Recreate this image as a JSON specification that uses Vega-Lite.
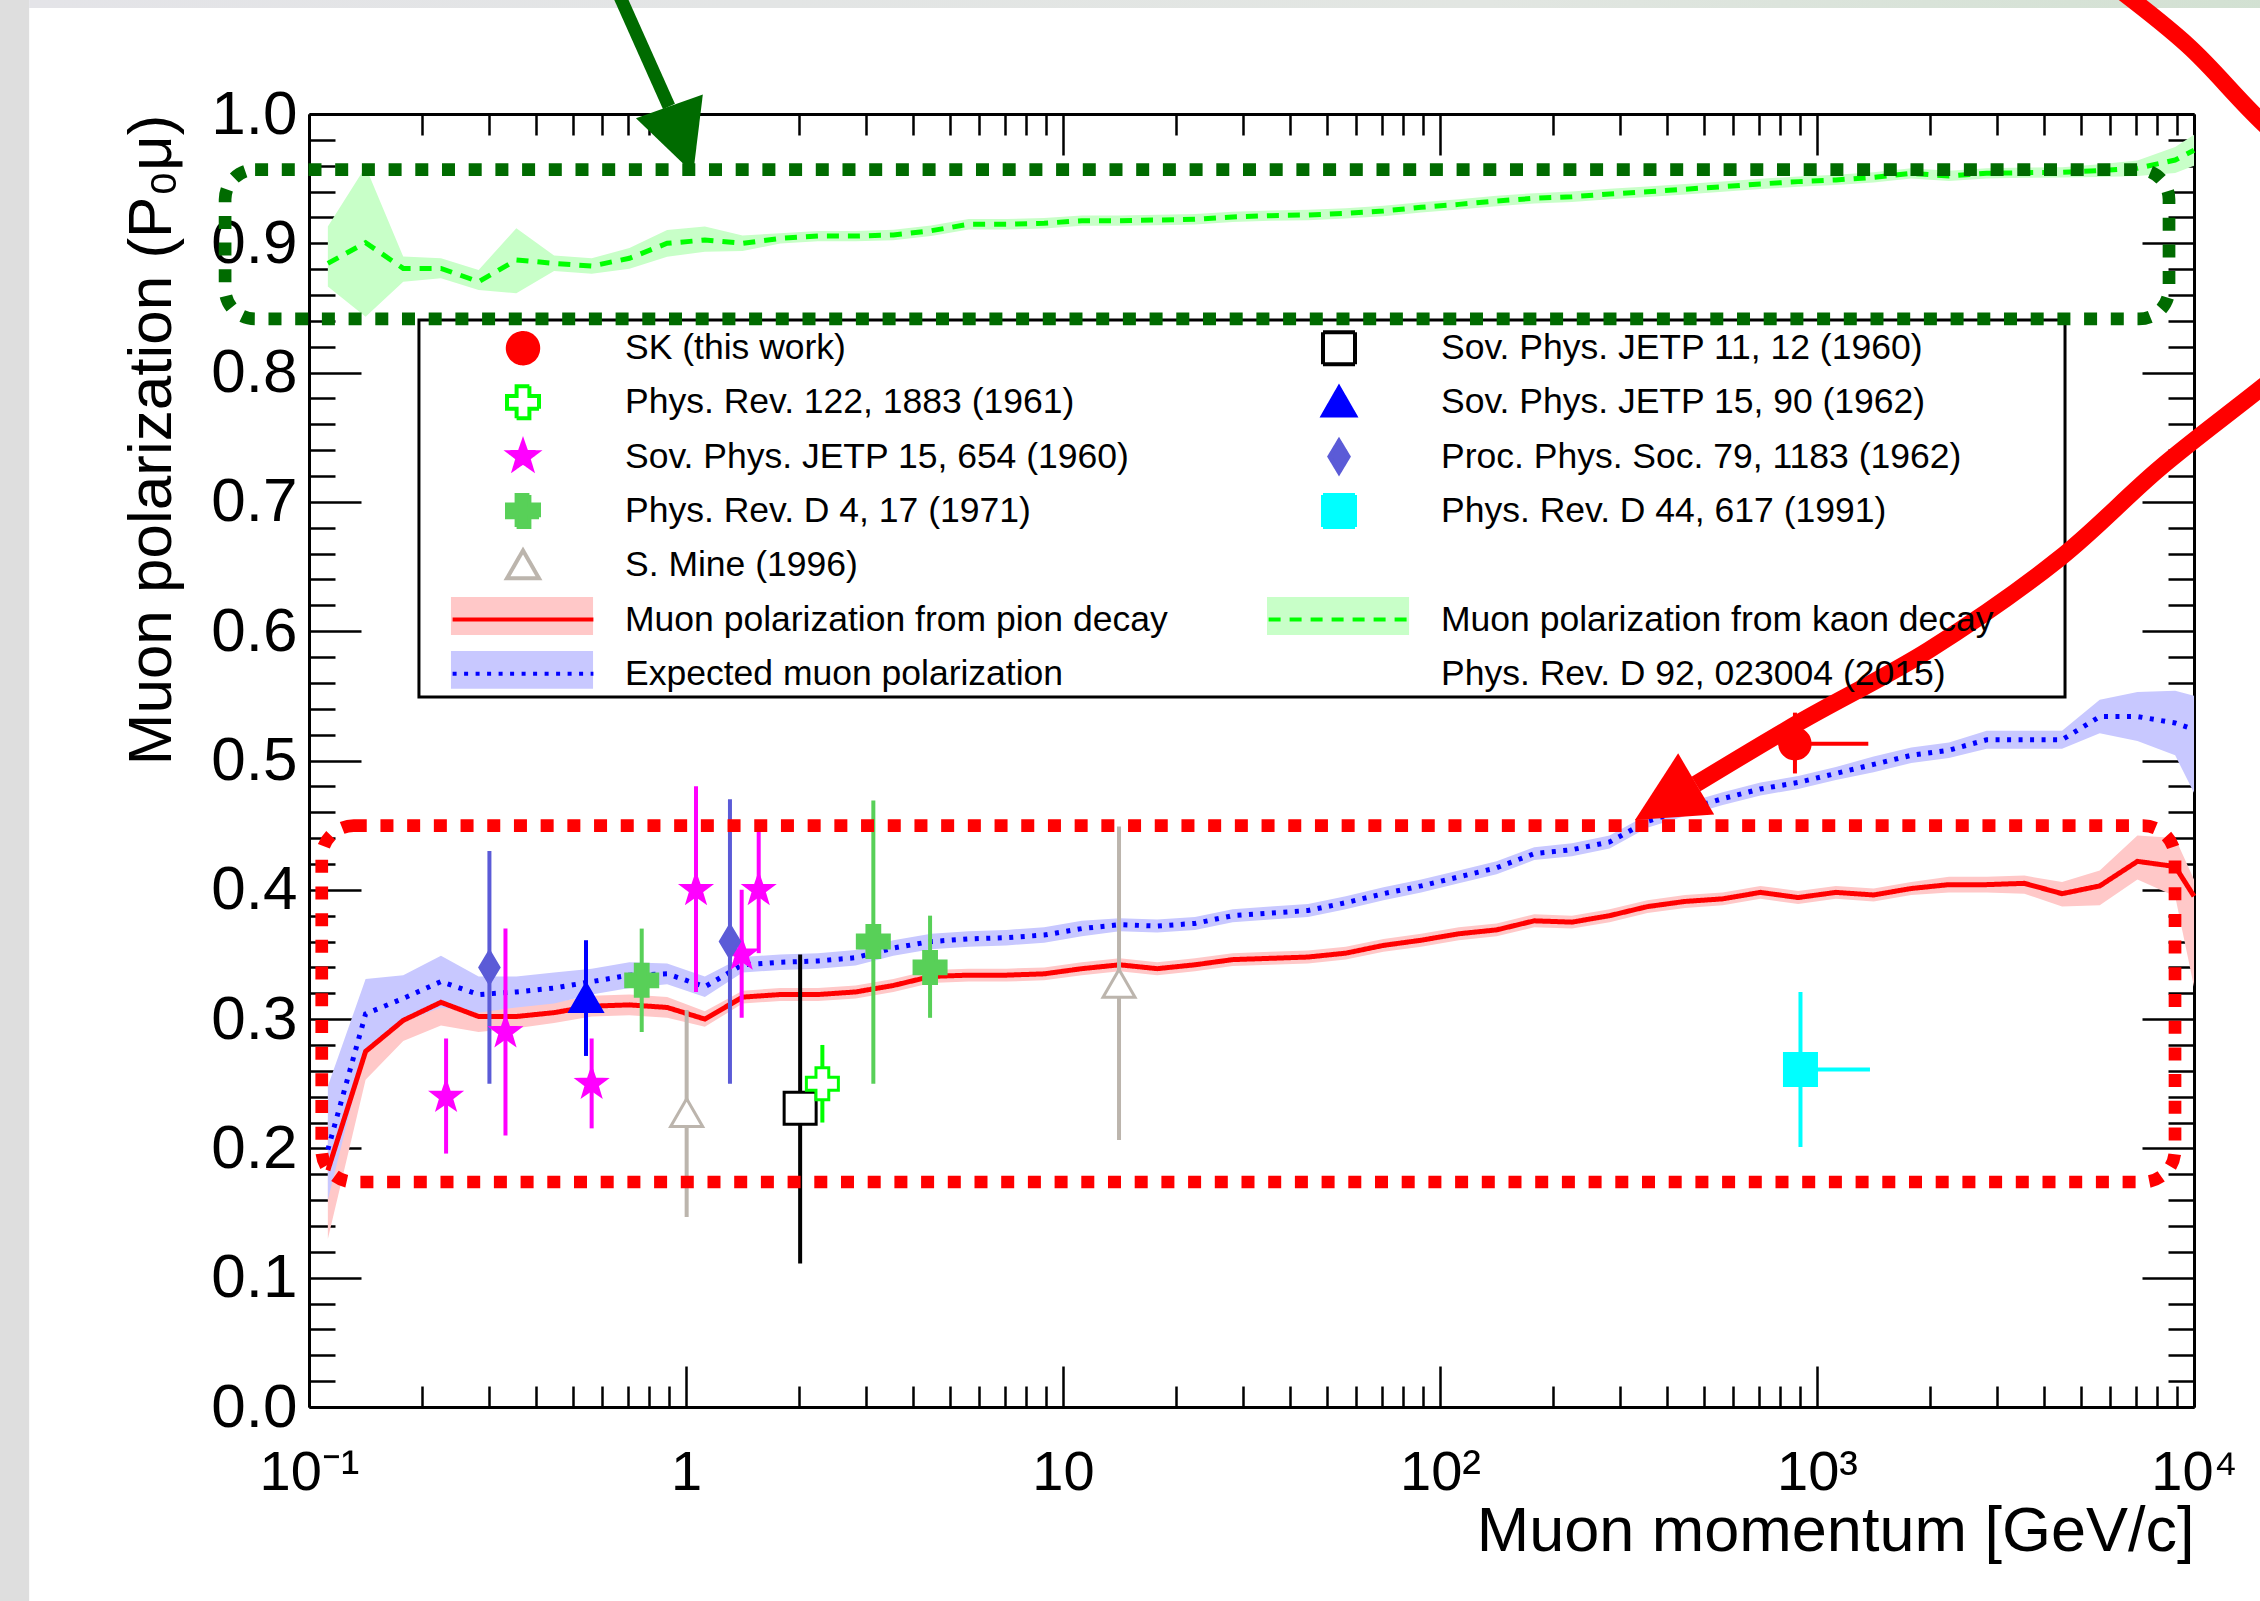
{
  "$schema": "https://vega.github.io/schema/vega-lite/v6.json",
  "autosize": {"type": "none"},
  "width": 1885,
  "height": 1293,
  "padding": {"left": 309, "top": 114, "right": 66, "bottom": 194},
  "background": "white",
  "datasets": {
    "curves": [
      {"series": "Muon polarization from pion decay", "p": 0.1122, "v": 0.183, "lo": 0.130, "hi": 0.222},
      {"series": "Muon polarization from pion decay", "p": 0.1413, "v": 0.275, "lo": 0.253, "hi": 0.297},
      {"series": "Muon polarization from pion decay", "p": 0.1778, "v": 0.299, "lo": 0.283, "hi": 0.315},
      {"series": "Muon polarization from pion decay", "p": 0.2239, "v": 0.313, "lo": 0.295, "hi": 0.331},
      {"series": "Muon polarization from pion decay", "p": 0.2818, "v": 0.302, "lo": 0.290, "hi": 0.314},
      {"series": "Muon polarization from pion decay", "p": 0.3548, "v": 0.302, "lo": 0.293, "hi": 0.311},
      {"series": "Muon polarization from pion decay", "p": 0.4467, "v": 0.305, "lo": 0.297, "hi": 0.313},
      {"series": "Muon polarization from pion decay", "p": 0.5623, "v": 0.310, "lo": 0.302, "hi": 0.318},
      {"series": "Muon polarization from pion decay", "p": 0.7079, "v": 0.311, "lo": 0.303, "hi": 0.319},
      {"series": "Muon polarization from pion decay", "p": 0.8913, "v": 0.309, "lo": 0.301, "hi": 0.317},
      {"series": "Muon polarization from pion decay", "p": 1.122, "v": 0.300, "lo": 0.294, "hi": 0.306},
      {"series": "Muon polarization from pion decay", "p": 1.413, "v": 0.317, "lo": 0.312, "hi": 0.322},
      {"series": "Muon polarization from pion decay", "p": 1.778, "v": 0.319, "lo": 0.314, "hi": 0.324},
      {"series": "Muon polarization from pion decay", "p": 2.239, "v": 0.319, "lo": 0.314, "hi": 0.324},
      {"series": "Muon polarization from pion decay", "p": 2.818, "v": 0.321, "lo": 0.316, "hi": 0.326},
      {"series": "Muon polarization from pion decay", "p": 3.548, "v": 0.326, "lo": 0.321, "hi": 0.331},
      {"series": "Muon polarization from pion decay", "p": 4.467, "v": 0.333, "lo": 0.328, "hi": 0.338},
      {"series": "Muon polarization from pion decay", "p": 5.623, "v": 0.334, "lo": 0.329, "hi": 0.339},
      {"series": "Muon polarization from pion decay", "p": 7.079, "v": 0.334, "lo": 0.329, "hi": 0.339},
      {"series": "Muon polarization from pion decay", "p": 8.913, "v": 0.335, "lo": 0.330, "hi": 0.340},
      {"series": "Muon polarization from pion decay", "p": 11.22, "v": 0.339, "lo": 0.334, "hi": 0.344},
      {"series": "Muon polarization from pion decay", "p": 14.13, "v": 0.342, "lo": 0.337, "hi": 0.347},
      {"series": "Muon polarization from pion decay", "p": 17.78, "v": 0.339, "lo": 0.334, "hi": 0.344},
      {"series": "Muon polarization from pion decay", "p": 22.39, "v": 0.342, "lo": 0.337, "hi": 0.347},
      {"series": "Muon polarization from pion decay", "p": 28.18, "v": 0.346, "lo": 0.341, "hi": 0.351},
      {"series": "Muon polarization from pion decay", "p": 35.48, "v": 0.347, "lo": 0.342, "hi": 0.352},
      {"series": "Muon polarization from pion decay", "p": 44.67, "v": 0.348, "lo": 0.343, "hi": 0.353},
      {"series": "Muon polarization from pion decay", "p": 56.23, "v": 0.351, "lo": 0.346, "hi": 0.356},
      {"series": "Muon polarization from pion decay", "p": 70.79, "v": 0.357, "lo": 0.352, "hi": 0.362},
      {"series": "Muon polarization from pion decay", "p": 89.13, "v": 0.361, "lo": 0.356, "hi": 0.366},
      {"series": "Muon polarization from pion decay", "p": 112.2, "v": 0.366, "lo": 0.361, "hi": 0.371},
      {"series": "Muon polarization from pion decay", "p": 141.3, "v": 0.369, "lo": 0.364, "hi": 0.374},
      {"series": "Muon polarization from pion decay", "p": 177.8, "v": 0.376, "lo": 0.371, "hi": 0.381},
      {"series": "Muon polarization from pion decay", "p": 223.9, "v": 0.375, "lo": 0.370, "hi": 0.380},
      {"series": "Muon polarization from pion decay", "p": 281.8, "v": 0.380, "lo": 0.375, "hi": 0.385},
      {"series": "Muon polarization from pion decay", "p": 354.8, "v": 0.387, "lo": 0.382, "hi": 0.392},
      {"series": "Muon polarization from pion decay", "p": 446.7, "v": 0.391, "lo": 0.386, "hi": 0.396},
      {"series": "Muon polarization from pion decay", "p": 562.3, "v": 0.393, "lo": 0.388, "hi": 0.398},
      {"series": "Muon polarization from pion decay", "p": 707.9, "v": 0.398, "lo": 0.393, "hi": 0.403},
      {"series": "Muon polarization from pion decay", "p": 891.3, "v": 0.394, "lo": 0.389, "hi": 0.399},
      {"series": "Muon polarization from pion decay", "p": 1122, "v": 0.398, "lo": 0.393, "hi": 0.403},
      {"series": "Muon polarization from pion decay", "p": 1413, "v": 0.396, "lo": 0.391, "hi": 0.401},
      {"series": "Muon polarization from pion decay", "p": 1778, "v": 0.401, "lo": 0.396, "hi": 0.406},
      {"series": "Muon polarization from pion decay", "p": 2239, "v": 0.404, "lo": 0.398, "hi": 0.410},
      {"series": "Muon polarization from pion decay", "p": 2818, "v": 0.404, "lo": 0.398, "hi": 0.410},
      {"series": "Muon polarization from pion decay", "p": 3548, "v": 0.405, "lo": 0.397, "hi": 0.411},
      {"series": "Muon polarization from pion decay", "p": 4467, "v": 0.397, "lo": 0.387, "hi": 0.406},
      {"series": "Muon polarization from pion decay", "p": 5623, "v": 0.403, "lo": 0.388, "hi": 0.415},
      {"series": "Muon polarization from pion decay", "p": 7079, "v": 0.422, "lo": 0.408, "hi": 0.442},
      {"series": "Muon polarization from pion decay", "p": 8913, "v": 0.418, "lo": 0.395, "hi": 0.440},
      {"series": "Muon polarization from pion decay", "p": 10000, "v": 0.395, "lo": 0.325, "hi": 0.408},
      {"series": "Expected muon polarization", "p": 0.1122, "v": 0.199, "lo": 0.160, "hi": 0.248},
      {"series": "Expected muon polarization", "p": 0.1413, "v": 0.304, "lo": 0.277, "hi": 0.331},
      {"series": "Expected muon polarization", "p": 0.1778, "v": 0.316, "lo": 0.298, "hi": 0.334},
      {"series": "Expected muon polarization", "p": 0.2239, "v": 0.329, "lo": 0.309, "hi": 0.349},
      {"series": "Expected muon polarization", "p": 0.2818, "v": 0.319, "lo": 0.305, "hi": 0.333},
      {"series": "Expected muon polarization", "p": 0.3548, "v": 0.321, "lo": 0.309, "hi": 0.333},
      {"series": "Expected muon polarization", "p": 0.4467, "v": 0.324, "lo": 0.312, "hi": 0.336},
      {"series": "Expected muon polarization", "p": 0.5623, "v": 0.329, "lo": 0.319, "hi": 0.339},
      {"series": "Expected muon polarization", "p": 0.7079, "v": 0.334, "lo": 0.324, "hi": 0.344},
      {"series": "Expected muon polarization", "p": 0.8913, "v": 0.335, "lo": 0.327, "hi": 0.343},
      {"series": "Expected muon polarization", "p": 1.122, "v": 0.325, "lo": 0.317, "hi": 0.333},
      {"series": "Expected muon polarization", "p": 1.413, "v": 0.342, "lo": 0.336, "hi": 0.348},
      {"series": "Expected muon polarization", "p": 1.778, "v": 0.344, "lo": 0.338, "hi": 0.350},
      {"series": "Expected muon polarization", "p": 2.239, "v": 0.345, "lo": 0.339, "hi": 0.351},
      {"series": "Expected muon polarization", "p": 2.818, "v": 0.3475, "lo": 0.3415, "hi": 0.3535},
      {"series": "Expected muon polarization", "p": 3.548, "v": 0.355, "lo": 0.349, "hi": 0.361},
      {"series": "Expected muon polarization", "p": 4.467, "v": 0.360, "lo": 0.354, "hi": 0.366},
      {"series": "Expected muon polarization", "p": 5.623, "v": 0.362, "lo": 0.356, "hi": 0.368},
      {"series": "Expected muon polarization", "p": 7.079, "v": 0.363, "lo": 0.357, "hi": 0.369},
      {"series": "Expected muon polarization", "p": 8.913, "v": 0.365, "lo": 0.359, "hi": 0.371},
      {"series": "Expected muon polarization", "p": 11.22, "v": 0.370, "lo": 0.364, "hi": 0.376},
      {"series": "Expected muon polarization", "p": 14.13, "v": 0.373, "lo": 0.368, "hi": 0.378},
      {"series": "Expected muon polarization", "p": 17.78, "v": 0.372, "lo": 0.367, "hi": 0.377},
      {"series": "Expected muon polarization", "p": 22.39, "v": 0.374, "lo": 0.369, "hi": 0.379},
      {"series": "Expected muon polarization", "p": 28.18, "v": 0.380, "lo": 0.375, "hi": 0.385},
      {"series": "Expected muon polarization", "p": 35.48, "v": 0.382, "lo": 0.377, "hi": 0.387},
      {"series": "Expected muon polarization", "p": 44.67, "v": 0.384, "lo": 0.379, "hi": 0.389},
      {"series": "Expected muon polarization", "p": 56.23, "v": 0.390, "lo": 0.385, "hi": 0.395},
      {"series": "Expected muon polarization", "p": 70.79, "v": 0.397, "lo": 0.392, "hi": 0.402},
      {"series": "Expected muon polarization", "p": 89.13, "v": 0.403, "lo": 0.398, "hi": 0.408},
      {"series": "Expected muon polarization", "p": 112.2, "v": 0.410, "lo": 0.405, "hi": 0.415},
      {"series": "Expected muon polarization", "p": 141.3, "v": 0.417, "lo": 0.412, "hi": 0.422},
      {"series": "Expected muon polarization", "p": 177.8, "v": 0.428, "lo": 0.423, "hi": 0.433},
      {"series": "Expected muon polarization", "p": 223.9, "v": 0.431, "lo": 0.426, "hi": 0.436},
      {"series": "Expected muon polarization", "p": 281.8, "v": 0.437, "lo": 0.432, "hi": 0.442},
      {"series": "Expected muon polarization", "p": 354.8, "v": 0.453, "lo": 0.448, "hi": 0.458},
      {"series": "Expected muon polarization", "p": 446.7, "v": 0.462, "lo": 0.457, "hi": 0.467},
      {"series": "Expected muon polarization", "p": 562.3, "v": 0.4705, "lo": 0.4655, "hi": 0.4755},
      {"series": "Expected muon polarization", "p": 707.9, "v": 0.478, "lo": 0.473, "hi": 0.483},
      {"series": "Expected muon polarization", "p": 891.3, "v": 0.483, "lo": 0.478, "hi": 0.488},
      {"series": "Expected muon polarization", "p": 1122, "v": 0.490, "lo": 0.485, "hi": 0.495},
      {"series": "Expected muon polarization", "p": 1413, "v": 0.497, "lo": 0.491, "hi": 0.503},
      {"series": "Expected muon polarization", "p": 1778, "v": 0.504, "lo": 0.498, "hi": 0.510},
      {"series": "Expected muon polarization", "p": 2239, "v": 0.508, "lo": 0.502, "hi": 0.514},
      {"series": "Expected muon polarization", "p": 2818, "v": 0.516, "lo": 0.509, "hi": 0.523},
      {"series": "Expected muon polarization", "p": 3548, "v": 0.516, "lo": 0.509, "hi": 0.523},
      {"series": "Expected muon polarization", "p": 4467, "v": 0.516, "lo": 0.509, "hi": 0.523},
      {"series": "Expected muon polarization", "p": 5623, "v": 0.534, "lo": 0.521, "hi": 0.547},
      {"series": "Expected muon polarization", "p": 7079, "v": 0.534, "lo": 0.515, "hi": 0.553},
      {"series": "Expected muon polarization", "p": 8913, "v": 0.529, "lo": 0.504, "hi": 0.554},
      {"series": "Expected muon polarization", "p": 10000, "v": 0.524, "lo": 0.475, "hi": 0.550},
      {"series": "Muon polarization from kaon decay", "p": 0.1122, "v": 0.8845, "lo": 0.8665, "hi": 0.9129},
      {"series": "Muon polarization from kaon decay", "p": 0.1413, "v": 0.9005, "lo": 0.8432, "hi": 0.9593},
      {"series": "Muon polarization from kaon decay", "p": 0.1778, "v": 0.8806, "lo": 0.8703, "hi": 0.8897},
      {"series": "Muon polarization from kaon decay", "p": 0.2239, "v": 0.8806, "lo": 0.8729, "hi": 0.8884},
      {"series": "Muon polarization from kaon decay", "p": 0.2818, "v": 0.8703, "lo": 0.8639, "hi": 0.8794},
      {"series": "Muon polarization from kaon decay", "p": 0.3548, "v": 0.8871, "lo": 0.8613, "hi": 0.9116},
      {"series": "Muon polarization from kaon decay", "p": 0.4467, "v": 0.8845, "lo": 0.8785, "hi": 0.8905},
      {"series": "Muon polarization from kaon decay", "p": 0.5623, "v": 0.8824, "lo": 0.8764, "hi": 0.8884},
      {"series": "Muon polarization from kaon decay", "p": 0.7079, "v": 0.8884, "lo": 0.8804, "hi": 0.8964},
      {"series": "Muon polarization from kaon decay", "p": 0.8913, "v": 0.9000, "lo": 0.8896, "hi": 0.9103},
      {"series": "Muon polarization from kaon decay", "p": 1.122, "v": 0.9025, "lo": 0.8935, "hi": 0.9129},
      {"series": "Muon polarization from kaon decay", "p": 1.413, "v": 0.9000, "lo": 0.8940, "hi": 0.9060},
      {"series": "Muon polarization from kaon decay", "p": 1.778, "v": 0.9038, "lo": 0.8998, "hi": 0.9078},
      {"series": "Muon polarization from kaon decay", "p": 2.239, "v": 0.9056, "lo": 0.9016, "hi": 0.9096},
      {"series": "Muon polarization from kaon decay", "p": 2.818, "v": 0.9056, "lo": 0.9016, "hi": 0.9096},
      {"series": "Muon polarization from kaon decay", "p": 3.548, "v": 0.9064, "lo": 0.9024, "hi": 0.9104},
      {"series": "Muon polarization from kaon decay", "p": 4.467, "v": 0.9097, "lo": 0.9057, "hi": 0.9137},
      {"series": "Muon polarization from kaon decay", "p": 5.623, "v": 0.9147, "lo": 0.9107, "hi": 0.9187},
      {"series": "Muon polarization from kaon decay", "p": 7.079, "v": 0.9147, "lo": 0.9107, "hi": 0.9187},
      {"series": "Muon polarization from kaon decay", "p": 8.913, "v": 0.9155, "lo": 0.9115, "hi": 0.9195},
      {"series": "Muon polarization from kaon decay", "p": 11.22, "v": 0.9175, "lo": 0.9135, "hi": 0.9215},
      {"series": "Muon polarization from kaon decay", "p": 14.13, "v": 0.9175, "lo": 0.9135, "hi": 0.9215},
      {"series": "Muon polarization from kaon decay", "p": 17.78, "v": 0.9180, "lo": 0.9140, "hi": 0.9220},
      {"series": "Muon polarization from kaon decay", "p": 22.39, "v": 0.9186, "lo": 0.9146, "hi": 0.9226},
      {"series": "Muon polarization from kaon decay", "p": 28.18, "v": 0.9204, "lo": 0.9164, "hi": 0.9244},
      {"series": "Muon polarization from kaon decay", "p": 35.48, "v": 0.9214, "lo": 0.9174, "hi": 0.9254},
      {"series": "Muon polarization from kaon decay", "p": 44.67, "v": 0.9219, "lo": 0.9179, "hi": 0.9259},
      {"series": "Muon polarization from kaon decay", "p": 56.23, "v": 0.9232, "lo": 0.9192, "hi": 0.9272},
      {"series": "Muon polarization from kaon decay", "p": 70.79, "v": 0.9250, "lo": 0.9210, "hi": 0.9290},
      {"series": "Muon polarization from kaon decay", "p": 89.13, "v": 0.9278, "lo": 0.9238, "hi": 0.9318},
      {"series": "Muon polarization from kaon decay", "p": 112.2, "v": 0.9301, "lo": 0.9261, "hi": 0.9341},
      {"series": "Muon polarization from kaon decay", "p": 141.3, "v": 0.9327, "lo": 0.9287, "hi": 0.9367},
      {"series": "Muon polarization from kaon decay", "p": 177.8, "v": 0.9348, "lo": 0.9308, "hi": 0.9388},
      {"series": "Muon polarization from kaon decay", "p": 223.9, "v": 0.9360, "lo": 0.9320, "hi": 0.9400},
      {"series": "Muon polarization from kaon decay", "p": 281.8, "v": 0.9381, "lo": 0.9341, "hi": 0.9421},
      {"series": "Muon polarization from kaon decay", "p": 354.8, "v": 0.9399, "lo": 0.9359, "hi": 0.9439},
      {"series": "Muon polarization from kaon decay", "p": 446.7, "v": 0.9418, "lo": 0.9378, "hi": 0.9458},
      {"series": "Muon polarization from kaon decay", "p": 562.3, "v": 0.9438, "lo": 0.9398, "hi": 0.9478},
      {"series": "Muon polarization from kaon decay", "p": 707.9, "v": 0.9459, "lo": 0.9419, "hi": 0.9499},
      {"series": "Muon polarization from kaon decay", "p": 891.3, "v": 0.9477, "lo": 0.9437, "hi": 0.9517},
      {"series": "Muon polarization from kaon decay", "p": 1122, "v": 0.9490, "lo": 0.9450, "hi": 0.9530},
      {"series": "Muon polarization from kaon decay", "p": 1413, "v": 0.9510, "lo": 0.9470, "hi": 0.9550},
      {"series": "Muon polarization from kaon decay", "p": 1778, "v": 0.9541, "lo": 0.9501, "hi": 0.9581},
      {"series": "Muon polarization from kaon decay", "p": 2239, "v": 0.9521, "lo": 0.9481, "hi": 0.9561},
      {"series": "Muon polarization from kaon decay", "p": 2818, "v": 0.9541, "lo": 0.9501, "hi": 0.9581},
      {"series": "Muon polarization from kaon decay", "p": 3548, "v": 0.9546, "lo": 0.9506, "hi": 0.9586},
      {"series": "Muon polarization from kaon decay", "p": 4467, "v": 0.9549, "lo": 0.9509, "hi": 0.9589},
      {"series": "Muon polarization from kaon decay", "p": 5623, "v": 0.9562, "lo": 0.9512, "hi": 0.9612},
      {"series": "Muon polarization from kaon decay", "p": 7079, "v": 0.9580, "lo": 0.9520, "hi": 0.9640},
      {"series": "Muon polarization from kaon decay", "p": 8913, "v": 0.9644, "lo": 0.9544, "hi": 0.9744},
      {"series": "Muon polarization from kaon decay", "p": 10000, "v": 0.9720, "lo": 0.9600, "hi": 0.9840}
    ],
    "points": [
      {"series": "SK (this work)", "p": 874, "v": 0.513, "vlo": 0.490, "vhi": 0.537, "plo": 790, "phi": 1368},
      {"series": "Sov. Phys. JETP 11, 12 (1960)", "p": 2.008, "v": 0.231, "vlo": 0.111, "vhi": 0.350},
      {"series": "Phys. Rev. 122, 1883 (1961)", "p": 2.30, "v": 0.250, "vlo": 0.220, "vhi": 0.280},
      {"series": "Sov. Phys. JETP 15, 90 (1962)", "p": 0.543, "v": 0.316, "vlo": 0.2715, "vhi": 0.361},
      {"series": "Sov. Phys. JETP 15, 654 (1960)", "p": 0.231, "v": 0.240, "vlo": 0.196, "vhi": 0.285},
      {"series": "Sov. Phys. JETP 15, 654 (1960)", "p": 0.332, "v": 0.290, "vlo": 0.210, "vhi": 0.370},
      {"series": "Sov. Phys. JETP 15, 654 (1960)", "p": 0.562, "v": 0.250, "vlo": 0.2155, "vhi": 0.285},
      {"series": "Sov. Phys. JETP 15, 654 (1960)", "p": 1.063, "v": 0.400, "vlo": 0.321, "vhi": 0.480},
      {"series": "Sov. Phys. JETP 15, 654 (1960)", "p": 1.405, "v": 0.350, "vlo": 0.301, "vhi": 0.400},
      {"series": "Sov. Phys. JETP 15, 654 (1960)", "p": 1.559, "v": 0.400, "vlo": 0.351, "vhi": 0.446},
      {"series": "Proc. Phys. Soc. 79, 1183 (1962)", "p": 0.301, "v": 0.340, "vlo": 0.250, "vhi": 0.430},
      {"series": "Proc. Phys. Soc. 79, 1183 (1962)", "p": 1.308, "v": 0.360, "vlo": 0.250, "vhi": 0.470},
      {"series": "Phys. Rev. D 4, 17 (1971)", "p": 0.763, "v": 0.330, "vlo": 0.290, "vhi": 0.370},
      {"series": "Phys. Rev. D 4, 17 (1971)", "p": 3.14, "v": 0.360, "vlo": 0.250, "vhi": 0.469},
      {"series": "Phys. Rev. D 4, 17 (1971)", "p": 4.44, "v": 0.340, "vlo": 0.301, "vhi": 0.380},
      {"series": "Phys. Rev. D 44, 617 (1991)", "p": 904, "v": 0.261, "vlo": 0.201, "vhi": 0.321, "plo": 815, "phi": 1382},
      {"series": "S. Mine (1996)", "p": 1.004, "v": 0.227, "vlo": 0.147, "vhi": 0.307},
      {"series": "S. Mine (1996)", "p": 14.08, "v": 0.327, "vlo": 0.2065, "vhi": 0.449}
    ],
    "redArrowPath": [
      {"i": 0, "p": 5400, "v": 1.1114},
      {"i": 1, "p": 9600, "v": 1.0534},
      {"i": 2, "p": 15430, "v": 0.9915},
      {"i": 3, "p": 39770, "v": 0.8871},
      {"i": 4, "p": 15430, "v": 0.7904},
      {"i": 5, "p": 8125, "v": 0.7262},
      {"i": 6, "p": 4412, "v": 0.6566},
      {"i": 7, "p": 1982, "v": 0.5855},
      {"i": 8, "p": 901, "v": 0.5298},
      {"i": 9, "p": 477.5, "v": 0.4818}
    ]
  },
  "resolve": {"axis": {"x": "independent", "y": "independent"}},
  "layer": [
    {
      "data": {"values": [{}]},
      "mark": {"type": "rect", "color": "#dedede"},
      "encoding": {
        "x": {"datum": 0.0001, "type": "quantitative", "axis": null},
        "x2": {"datum": 0.0181},
        "y": {"datum": -0.5, "type": "quantitative", "axis": null},
        "y2": {"datum": 1.5}
      }
    },
    {
      "data": {"values": [{}]},
      "mark": {"type": "rect", "color": {"gradient": "linear", "x1": 0, "y1": 0, "x2": 1, "y2": 0, "stops": [{"offset": 0, "color": "#e4e4e8"}, {"offset": 0.5, "color": "#e2e6e2"}, {"offset": 1, "color": "#c4dcc4"}]}},
      "encoding": {
        "x": {"datum": 0.0181, "type": "quantitative", "axis": null},
        "x2": {"datum": 1000000},
        "y": {"datum": 1.082, "type": "quantitative", "axis": null},
        "y2": {"datum": 1.5}
      }
    },
    {
      "data": {"name": "curves"},
      "transform": [{"calculate": "'~' + datum.series", "as": "band"}],
      "mark": {"type": "area", "opacity": 1},
      "encoding": {
        "x": {
          "field": "p", "type": "quantitative",
          "scale": {"type": "log", "domain": [0.1, 10000], "nice": false},
          "axis": {
            "orient": "bottom",
            "values": [0.1, 1, 10, 100, 1000, 10000],
            "labelExpr": "datum.value < 0.5 ? '10\u207b\u00b9' : datum.value < 5 ? '1' : datum.value < 50 ? '10' : datum.value < 500 ? '10\u00b2' : datum.value < 5000 ? '10\u00b3' : '10\u2074'",
            "labelFontSize": 56,
            "tickSize": -41,
            "labelPadding": 123,
            "labelBaseline": "alphabetic",
            "labelAlign": "center",
            "title": "Muon momentum [GeV/c]",
            "titleFontSize": 63,
            "titleX": 1885,
            "titleY": 143,
            "titleAlign": "right",
            "titleBaseline": "alphabetic"
          }
        },
        "y": {
          "field": "lo", "type": "quantitative",
          "scale": {"domain": [0, 1], "nice": false, "zero": false},
          "axis": {
            "orient": "left",
            "values": [0, 0.1, 0.2, 0.3, 0.4, 0.5, 0.6, 0.7, 0.8, 0.9, 1],
            "format": ".1f",
            "labelFontSize": 62,
            "tickSize": -52,
            "labelPadding": 64,
            "labelBaseline": "middle",
            "labelAlign": "right",
            "title": "Muon polarization (P\u2080\u03bc)",
            "titleFontSize": 62,
            "titleAngle": 270,
            "titleX": -139,
            "titleY": 0,
            "titleAlign": "right",
            "titleBaseline": "alphabetic"
          }
        },
        "y2": {"field": "hi"},
        "fill": {
          "field": "band", "type": "nominal", "legend": null,
          "scale": {
            "domain": ["~Muon polarization from pion decay", "~Expected muon polarization", "~Muon polarization from kaon decay"],
            "range": ["#ffc8c8", "#c8c8ff", "#c8ffc8"]
          }
        }
      }
    },
    {
      "data": {"name": "curves"},
      "mark": {"type": "line", "strokeWidth": 5},
      "encoding": {
        "x": {
          "field": "p", "type": "quantitative",
          "axis": {"orient": "top", "labels": false, "title": null, "tickSize": -41, "values": [0.1, 1, 10, 100, 1000, 10000]}
        },
        "y": {
          "field": "v", "type": "quantitative",
          "axis": {"orient": "right", "labels": false, "title": null, "tickSize": -52, "values": [0, 0.1, 0.2, 0.3, 0.4, 0.5, 0.6, 0.7, 0.8, 0.9, 1]}
        },
        "stroke": {"field": "series", "type": "nominal"},
        "strokeDash": {
          "field": "series", "type": "nominal",
          "scale": {
            "domain": ["SK (this work)", "Phys. Rev. 122, 1883 (1961)", "Sov. Phys. JETP 15, 654 (1960)", "Phys. Rev. D 4, 17 (1971)", "S. Mine (1996)", "Muon polarization from pion decay", "Expected muon polarization", "Sov. Phys. JETP 11, 12 (1960)", "Sov. Phys. JETP 15, 90 (1962)", "Proc. Phys. Soc. 79, 1183 (1962)", "Phys. Rev. D 44, 617 (1991)", " ", "Muon polarization from kaon decay", "Phys. Rev. D 92, 023004 (2015)"],
            "range": [[1,0],[1,0],[1,0],[1,0],[1,0],[1,0],[4,7.5],[1,0],[1,0],[1,0],[1,0],[1,0],[12,9],[1,0]]
          }
        }
      }
    },
    {
      "data": {"name": "points"},
      "mark": {"type": "rule", "strokeWidth": 4},
      "encoding": {
        "x": {
          "field": "p", "type": "quantitative",
          "axis": {"orient": "bottom", "labels": false, "title": null, "domain": false, "tickSize": -21,
                   "values": [0.2,0.3,0.4,0.5,0.6,0.7,0.8,0.9,2,3,4,5,6,7,8,9,20,30,40,50,60,70,80,90,200,300,400,500,600,700,800,900,2000,3000,4000,5000,6000,7000,8000,9000]}
        },
        "y": {
          "field": "vlo", "type": "quantitative",
          "axis": {"orient": "left", "labels": false, "title": null, "domain": false, "tickSize": -26,
                   "values": [0.02,0.04,0.06,0.08,0.12,0.14,0.16,0.18,0.22,0.24,0.26,0.28,0.32,0.34,0.36,0.38,0.42,0.44,0.46,0.48,0.52,0.54,0.56,0.58,0.62,0.64,0.66,0.68,0.72,0.74,0.76,0.78,0.82,0.84,0.86,0.88,0.92,0.94,0.96,0.98]}
        },
        "y2": {"field": "vhi"},
        "stroke": {"field": "series", "type": "nominal"}
      }
    },
    {
      "data": {"name": "points"},
      "transform": [{"filter": "isValid(datum.plo)"}],
      "mark": {"type": "rule", "strokeWidth": 4},
      "encoding": {
        "x": {
          "field": "plo", "type": "quantitative",
          "axis": {"orient": "top", "labels": false, "title": null, "domain": false, "tickSize": -21,
                   "values": [0.2,0.3,0.4,0.5,0.6,0.7,0.8,0.9,2,3,4,5,6,7,8,9,20,30,40,50,60,70,80,90,200,300,400,500,600,700,800,900,2000,3000,4000,5000,6000,7000,8000,9000]}
        },
        "x2": {"field": "phi"},
        "y": {
          "field": "v", "type": "quantitative",
          "axis": {"orient": "right", "labels": false, "title": null, "domain": false, "tickSize": -26,
                   "values": [0.02,0.04,0.06,0.08,0.12,0.14,0.16,0.18,0.22,0.24,0.26,0.28,0.32,0.34,0.36,0.38,0.42,0.44,0.46,0.48,0.52,0.54,0.56,0.58,0.62,0.64,0.66,0.68,0.72,0.74,0.76,0.78,0.82,0.84,0.86,0.88,0.92,0.94,0.96,0.98]}
        },
        "stroke": {"field": "series", "type": "nominal"}
      }
    },
    {
      "data": {"name": "points"},
      "mark": {"type": "point", "filled": true, "opacity": 1, "size": 1024, "strokeWidth": 3},
      "encoding": {
        "x": {"field": "p", "type": "quantitative", "axis": null},
        "y": {"field": "v", "type": "quantitative", "axis": null},
        "color": {
          "field": "series", "type": "nominal",
          "scale": {
            "domain": ["SK (this work)", "Phys. Rev. 122, 1883 (1961)", "Sov. Phys. JETP 15, 654 (1960)", "Phys. Rev. D 4, 17 (1971)", "S. Mine (1996)", "Muon polarization from pion decay", "Expected muon polarization", "Sov. Phys. JETP 11, 12 (1960)", "Sov. Phys. JETP 15, 90 (1962)", "Proc. Phys. Soc. 79, 1183 (1962)", "Phys. Rev. D 44, 617 (1991)", " ", "Muon polarization from kaon decay", "Phys. Rev. D 92, 023004 (2015)"],
            "range": ["#ff0000", "#ffffff", "#ff00ff", "#58d058", "#ffffff", "transparent", "transparent", "#ffffff", "#0000ff", "#5b5bd7", "#00ffff", "transparent", "transparent", "transparent"]
          }
        },
        "stroke": {
          "field": "series", "type": "nominal",
          "scale": {
            "domain": ["SK (this work)", "Phys. Rev. 122, 1883 (1961)", "Sov. Phys. JETP 15, 654 (1960)", "Phys. Rev. D 4, 17 (1971)", "S. Mine (1996)", "Muon polarization from pion decay", "Expected muon polarization", "Sov. Phys. JETP 11, 12 (1960)", "Sov. Phys. JETP 15, 90 (1962)", "Proc. Phys. Soc. 79, 1183 (1962)", "Phys. Rev. D 44, 617 (1991)", " ", "Muon polarization from kaon decay", "Phys. Rev. D 92, 023004 (2015)"],
            "range": ["#ff0000", "#00ff00", "#ff00ff", "#58d058", "#bcb5ad", "#ff0000", "#0000ff", "#000000", "#0000ff", "#5b5bd7", "#00ffff", "transparent", "#00ff00", "transparent"]
          }
        },
        "shape": {
          "field": "series", "type": "nominal",
          "scale": {
            "domain": ["SK (this work)", "Phys. Rev. 122, 1883 (1961)", "Sov. Phys. JETP 15, 654 (1960)", "Phys. Rev. D 4, 17 (1971)", "S. Mine (1996)", "Muon polarization from pion decay", "Expected muon polarization", "Sov. Phys. JETP 11, 12 (1960)", "Sov. Phys. JETP 15, 90 (1962)", "Proc. Phys. Soc. 79, 1183 (1962)", "Phys. Rev. D 44, 617 (1991)", " ", "Muon polarization from kaon decay", "Phys. Rev. D 92, 023004 (2015)"],
            "range": [
              "M0.95,0A0.95,0.95 0 1,1 -0.95,0A0.95,0.95 0 1,1 0.95,0Z M0,-1.1M0,1.1",
              "M-1,-0.4H-0.4V-1H0.4V-0.4H1V0.4H0.4V1H-0.4V0.4H-1Z M0,-1.1M0,1.1",
              "M0,-0.9L0.212,-0.291L0.856,-0.278L0.342,0.111L0.529,0.728L0,0.36L-0.529,0.728L-0.342,0.111L-0.856,-0.278L-0.212,-0.291Z M0,-1.1M0,1.1",
              "M-1,-0.4H-0.4V-1H0.4V-0.4H1V0.4H0.4V1H-0.4V0.4H-1Z M0,-1.1M0,1.1",
              "M0,-0.92L1,0.82L-1,0.82Z M0,-1.1M0,1.1",
              "M-4.4,0H4.4 M0,-1.1M0,1.1",
              "M-4.4,0H4.4 M0,-1.1M0,1.1",
              "M-1,-1H1V1H-1Z M0,-1.1M0,1.1",
              "M0,-0.92L1,0.82L-1,0.82Z M0,-1.1M0,1.1",
              "M0,-1L0.6,0L0,1L-0.6,0Z M0,-1.1M0,1.1",
              "M-1,-1H1V1H-1Z M0,-1.1M0,1.1",
              "M0,-1.1M0,1.1",
              "M-4.4,0H4.4 M0,-1.1M0,1.1",
              "M0,-1.1M0,1.1"
            ]
          },
          "legend": {
            "orient": "none", "legendX": 110, "legendY": 208, "columns": 2, "title": null,
            "gridAlign": "each", "padding": 8, "rowPadding": 2.3, "columnPadding": 75,
            "symbolSize": 1024, "symbolStrokeWidth": 4, "symbolOffset": 78, "labelOffset": 84, "symbolOpacity": 1,
            "labelFont": "Liberation Sans", "labelFontSize": 35.5, "labelColor": "#000000", "labelLimit": 2000,
            "encode": {"symbols": {
              "fill": {"value": {"signal": "scale('color', datum.value)"}},
              "stroke": {"value": {"signal": "scale('stroke', datum.value)"}},
              "strokeDash": {"value": {"signal": "scale('strokeDash', datum.value)"}}
            }}
          }
        }
      }
    },
    {
      "data": {"values": [{}]},
      "mark": {"type": "rect", "fill": "transparent", "stroke": "#000000", "strokeWidth": 3},
      "encoding": {
        "x": {"datum": 0.19573, "type": "quantitative", "axis": null},
        "x2": {"datum": 4548.6},
        "y": {"datum": 0.84068, "type": "quantitative", "axis": null},
        "y2": {"datum": 0.54911}
      }
    },
    {
      "data": {"values": [{}]},
      "mark": {"type": "rect", "color": "#ffc8c8"},
      "encoding": {
        "x": {"datum": 0.23798, "type": "quantitative", "axis": null},
        "x2": {"datum": 0.5668},
        "y": {"datum": 0.6264, "type": "quantitative", "axis": null},
        "y2": {"datum": 0.597}
      }
    },
    {
      "data": {"values": [{}]},
      "mark": {"type": "rect", "color": "#c8c8ff"},
      "encoding": {
        "x": {"datum": 0.23798, "type": "quantitative", "axis": null},
        "x2": {"datum": 0.5668},
        "y": {"datum": 0.5846, "type": "quantitative", "axis": null},
        "y2": {"datum": 0.5555}
      }
    },
    {
      "data": {"values": [{}]},
      "mark": {"type": "rect", "color": "#c8ffc8"},
      "encoding": {
        "x": {"datum": 34.764, "type": "quantitative", "axis": null},
        "x2": {"datum": 82.783},
        "y": {"datum": 0.6264, "type": "quantitative", "axis": null},
        "y2": {"datum": 0.597}
      }
    },
    {
      "data": {"values": [{}]},
      "mark": {"type": "rect", "fill": "transparent", "stroke": "#ff0000", "strokeWidth": 12.7, "strokeDash": [13, 13.7], "cornerRadius": 32},
      "encoding": {
        "x": {"datum": 0.1081, "type": "quantitative", "axis": null},
        "x2": {"datum": 8905},
        "y": {"datum": 0.4496, "type": "quantitative", "axis": null},
        "y2": {"datum": 0.174}
      }
    },
    {
      "data": {"values": [{}]},
      "mark": {"type": "rect", "fill": "transparent", "stroke": "#006b00", "strokeWidth": 12.7, "strokeDash": [13, 13.7], "cornerRadius": 30},
      "encoding": {
        "x": {"datum": 0.0599, "type": "quantitative", "axis": null},
        "x2": {"datum": 8585},
        "y": {"datum": 0.957, "type": "quantitative", "axis": null},
        "y2": {"datum": 0.8415}
      }
    },
    {
      "data": {"values": [{}]},
      "mark": {"type": "rule", "stroke": "#006b00", "strokeWidth": 13},
      "encoding": {
        "x": {"datum": 0.656, "type": "quantitative", "axis": null},
        "y": {"datum": 1.0959, "type": "quantitative", "axis": null},
        "x2": {"datum": 0.9013},
        "y2": {"datum": 1.0058}
      }
    },
    {
      "data": {"values": [{}]},
      "mark": {"type": "point", "shape": "M0,0L-0.5,-1L0.5,-1Z", "angle": 340.4, "size": 20164, "filled": true, "opacity": 1, "color": "#006b00"},
      "encoding": {
        "x": {"datum": 1.045, "type": "quantitative", "axis": null},
        "y": {"datum": 0.9541, "type": "quantitative", "axis": null}
      }
    },
    {
      "data": {"name": "redArrowPath"},
      "mark": {"type": "line", "stroke": "#ff0000", "strokeWidth": 17, "interpolate": "catmull-rom"},
      "encoding": {
        "x": {"field": "p", "type": "quantitative", "axis": null},
        "y": {"field": "v", "type": "quantitative", "axis": null},
        "order": {"field": "i", "type": "quantitative"}
      }
    },
    {
      "data": {"values": [{}]},
      "mark": {"type": "point", "shape": "M0,0L-0.5,-1L0.5,-1Z", "angle": 59.5, "size": 20164, "filled": true, "opacity": 1, "color": "#ff0000"},
      "encoding": {
        "x": {"datum": 329, "type": "quantitative", "axis": null},
        "y": {"datum": 0.454, "type": "quantitative", "axis": null}
      }
    }
  ],
  "config": {
    "view": {"stroke": null},
    "font": "Liberation Sans",
    "axis": {
      "grid": false, "domainColor": "#000000", "domainWidth": 3, "tickColor": "#000000", "tickWidth": 2.5,
      "labelFont": "Liberation Sans", "labelColor": "#000000", "titleFont": "Liberation Sans", "titleColor": "#000000", "titleFontWeight": "normal",
      "labelOverlap": false, "labelFlush": false, "labelBound": false
    },
    "legend": {"labelFont": "Liberation Sans", "symbolLimit": 100}
  }
}
